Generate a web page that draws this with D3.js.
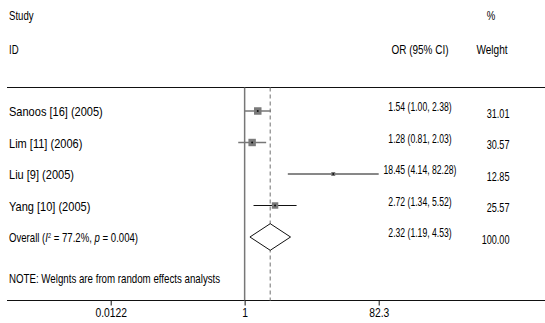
<!DOCTYPE html>
<html>
<head>
<meta charset="utf-8">
<script src="https://cdn.jsdelivr.net/npm/d3@7"></script>
<style>
  html, body { margin: 0; padding: 0; background: #fff; }
  svg { display: block; }
  text { font-family: "Liberation Sans", Arial, sans-serif; font-size: 12px; fill: #000; }
</style>
</head>
<body>
<svg id="chart" width="545" height="323"></svg>
<script>
// Study rows of the forest plot
const studies = ["Sanoos [16] (2005)", "Lim [11] (2006)", "Liu [9] (2005)", "Yang [10] (2005)"];
const orValues = [1.54, 1.28, 18.45, 2.72];
const ciLower = [1.00, 0.81, 4.14, 1.34];
const ciUpper = [2.38, 2.03, 82.28, 5.52];
const weights = ["31.01", "30.57", "12.85", "25.57"];

// Pooled random-effects estimate
const overallLabel = "Overall";
const overallOR = 2.32;
const overallLower = 1.19;
const overallUpper = 4.53;
const overallWeight = "100.00";

// Axis ticks
const tickValues = [0.0122, 1, 82.3];
const tickLabels = ["0.0122", "1", "82.3"];

const fmt = d3.format(".2f");
const svg = d3.select("#chart");

const x = d3.scaleLog().domain([0.0122, 82.3]).range([110.7, 378.7]);
const rowIds = d3.range(studies.length + 1);
const y = d3.scalePoint().domain(rowIds).range([111, 237]);
const boxSize = d3.scaleLinear().domain([0, 31.01]).range([1.5, 7.5]);

const plotTop = 87.5, plotBottom = 300.5;

// Condensed text: glyphs squeezed horizontally around their anchor point
function label(parent, px, py, str, anchor = "start", squeeze = 0.8) {
  return parent.append("text")
    .attr("transform", `translate(${px},${py}) scale(${squeeze},1)`)
    .attr("text-anchor", anchor)
    .text(str);
}

// Column headers
label(svg, 9, 20, "Study");
label(svg, 9, 54, "ID");
label(svg, 491, 20, "%", "middle");
label(svg, 420, 54, "OR (95% CI)", "middle", 0.83);
label(svg, 492, 54, "Welght", "middle", 0.84);

// Rules
svg.append("line").attr("x1", 7).attr("x2", 545).attr("y1", plotTop).attr("y2", plotTop)
  .attr("stroke", "#111").attr("stroke-width", 1);
svg.append("line").attr("x1", 7).attr("x2", 545).attr("y1", plotBottom).attr("y2", plotBottom)
  .attr("stroke", "#111").attr("stroke-width", 1);

// Null line and pooled estimate line
svg.append("line").attr("x1", x(1)).attr("x2", x(1)).attr("y1", plotTop).attr("y2", plotBottom)
  .attr("stroke", "#777").attr("stroke-width", 1.5);
svg.append("line").attr("x1", x(overallOR)).attr("x2", x(overallOR)).attr("y1", plotTop).attr("y2", plotBottom)
  .attr("stroke", "#888").attr("stroke-width", 1.2).attr("stroke-dasharray", "4,3");

// Study rows
const rowData = studies.map((s, i) => ({
  name: s, or: orValues[i], lo: ciLower[i], hi: ciUpper[i], w: weights[i], i
}));
const rows = svg.selectAll("g.row").data(rowData).join("g").attr("class", "row");

rows.append("line")
  .attr("x1", d => x(d.lo)).attr("x2", d => x(d.hi))
  .attr("y1", d => y(d.i)).attr("y2", d => y(d.i))
  .attr("stroke", d => (d.hi - d.lo) > 3 ? "#111" : "#777")
  .attr("stroke-width", d => (d.hi - d.lo) > 3 ? 1 : 1.5);

rows.append("rect")
  .attr("x", d => x(d.or) - boxSize(+d.w) / 2)
  .attr("y", d => y(d.i) - boxSize(+d.w) / 2)
  .attr("width", d => boxSize(+d.w))
  .attr("height", d => boxSize(+d.w))
  .attr("fill", "#7a7a7a");

rows.append("circle")
  .attr("cx", d => x(d.or)).attr("cy", d => y(d.i)).attr("r", 1)
  .attr("fill", "#111");

rows.each(function (d) {
  const g = d3.select(this);
  label(g, 9, y(d.i) + 5, d.name, "start", 0.92);
  label(g, 420, y(d.i), `${fmt(d.or)} (${fmt(d.lo)}, ${fmt(d.hi)})`, "middle", 0.72);
  label(g, 509.5, y(d.i) + 6.5, d.w, "end", 0.76);
});

// Overall row
const oy = y(studies.length);
const diamondH = 13.3;
svg.append("path")
  .attr("d", `M${x(overallLower)},${oy} L${x(overallOR)},${oy - diamondH} L${x(overallUpper)},${oy} L${x(overallOR)},${oy + diamondH} Z`)
  .attr("fill", "#fff").attr("stroke", "#111").attr("stroke-width", 1);

const ot = label(svg, 9, oy + 5, "", "start", 0.8);
ot.append("tspan").text(overallLabel + " (");
ot.append("tspan").attr("font-style", "italic").text("I");
ot.append("tspan").attr("font-size", 7).attr("dy", -4).text("2");
ot.append("tspan").attr("dy", 4).text(" = 77.2%, ");
ot.append("tspan").attr("font-style", "italic").text("p");
ot.append("tspan").text(" = 0.004)");

label(svg, 420, oy, `${fmt(overallOR)} (${fmt(overallLower)}, ${fmt(overallUpper)})`, "middle", 0.72);
label(svg, 509.5, oy + 6.5, overallWeight, "end", 0.76);

// Footnote
label(svg, 9, 283, "NOTE: Welgnts are from random effects analysts", "start", 0.81);

// Axis
const axis = d3.axisBottom(x).tickValues(tickValues)
  .tickFormat((d, i) => tickLabels[i]).tickSize(5).tickPadding(3);
const ag = svg.append("g").attr("transform", `translate(0,${plotBottom})`).call(axis);
ag.select(".domain").remove();
ag.selectAll(".tick line").attr("stroke", "#111");
ag.selectAll(".tick text")
  .attr("font-size", 12).attr("fill", "#000")
  .attr("font-family", "Liberation Sans, Arial, sans-serif")
  .attr("transform", "scale(0.86,1)")
  .attr("y", 0).attr("dy", "1.35em");
</script>
</body>
</html>
